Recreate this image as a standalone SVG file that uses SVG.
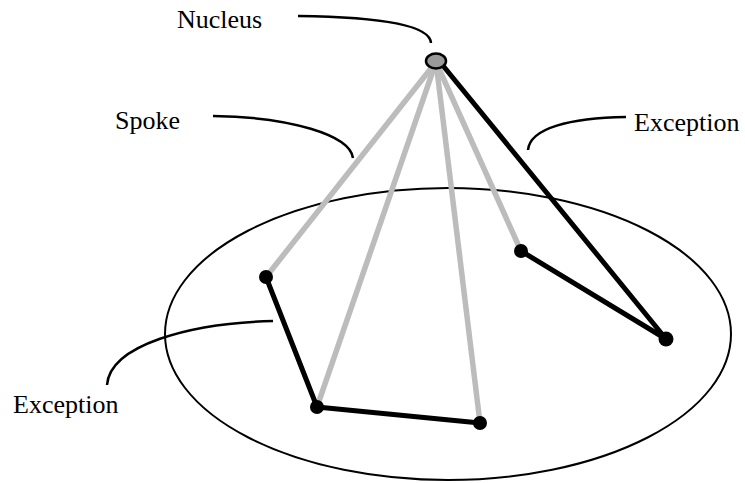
<svg xmlns="http://www.w3.org/2000/svg" width="745" height="483" viewBox="0 0 745 483">
<style>
.lbl{font-family:"Liberation Serif","Times New Roman",serif;font-size:26px;fill:#000}
.call{fill:none;stroke:#000;stroke-width:2.5}
.spoke{stroke:#bcbcbc;stroke-width:5.5;fill:none}
.bold{stroke:#000;stroke-width:5;fill:none;stroke-linecap:round}
.pt{fill:#000}
</style>
<rect width="745" height="483" fill="#fff"/>
<ellipse id="plane" cx="448" cy="334" rx="283" ry="146" fill="none" stroke="#000" stroke-width="2"/>
<g id="connectors">
<line class="spoke" x1="436" y1="62" x2="266" y2="277"/>
<line class="spoke" x1="436" y1="62" x2="317" y2="407"/>
<line class="spoke" x1="436" y1="62" x2="480" y2="423"/>
<line class="spoke" x1="436" y1="62" x2="521" y2="251"/>
<line class="bold" x1="440" y1="62" x2="666" y2="339"/>
<line class="bold" x1="266" y1="277" x2="317" y2="407"/>
<line class="bold" x1="317" y1="407" x2="480" y2="423"/>
<line class="bold" x1="521" y1="251" x2="666" y2="339"/>
<path class="call" d="M298,16 C380,17 430,25 431,43"/>
<path class="call" d="M213,116 C290,117 350,135 353,158"/>
<path class="call" d="M626,117 C570,118 530,128 528,150"/>
<path class="call" d="M273,321 C190,323 110,345 107,385"/>
</g>
<g id="nucleus">
<ellipse cx="436" cy="61" rx="10" ry="7.5" fill="#999" stroke="#000" stroke-width="2.5"/>
<text class="lbl" x="177" y="28">Nucleus</text>
</g>
<g id="spoke-label"><text class="lbl" x="115" y="129">Spoke</text></g>
<g id="exception-right"><text class="lbl" x="634" y="131">Exception</text></g>
<g id="exception-left"><text class="lbl" x="13" y="413">Exception</text></g>
<g id="pointA"><circle class="pt" cx="266" cy="277" r="7"/></g>
<g id="pointB"><circle class="pt" cx="317" cy="407" r="7"/></g>
<g id="pointC"><circle class="pt" cx="480" cy="423" r="7"/></g>
<g id="pointD"><circle class="pt" cx="521" cy="251" r="7"/></g>
<g id="pointE"><circle class="pt" cx="666" cy="339" r="7.5"/></g>
</svg>
